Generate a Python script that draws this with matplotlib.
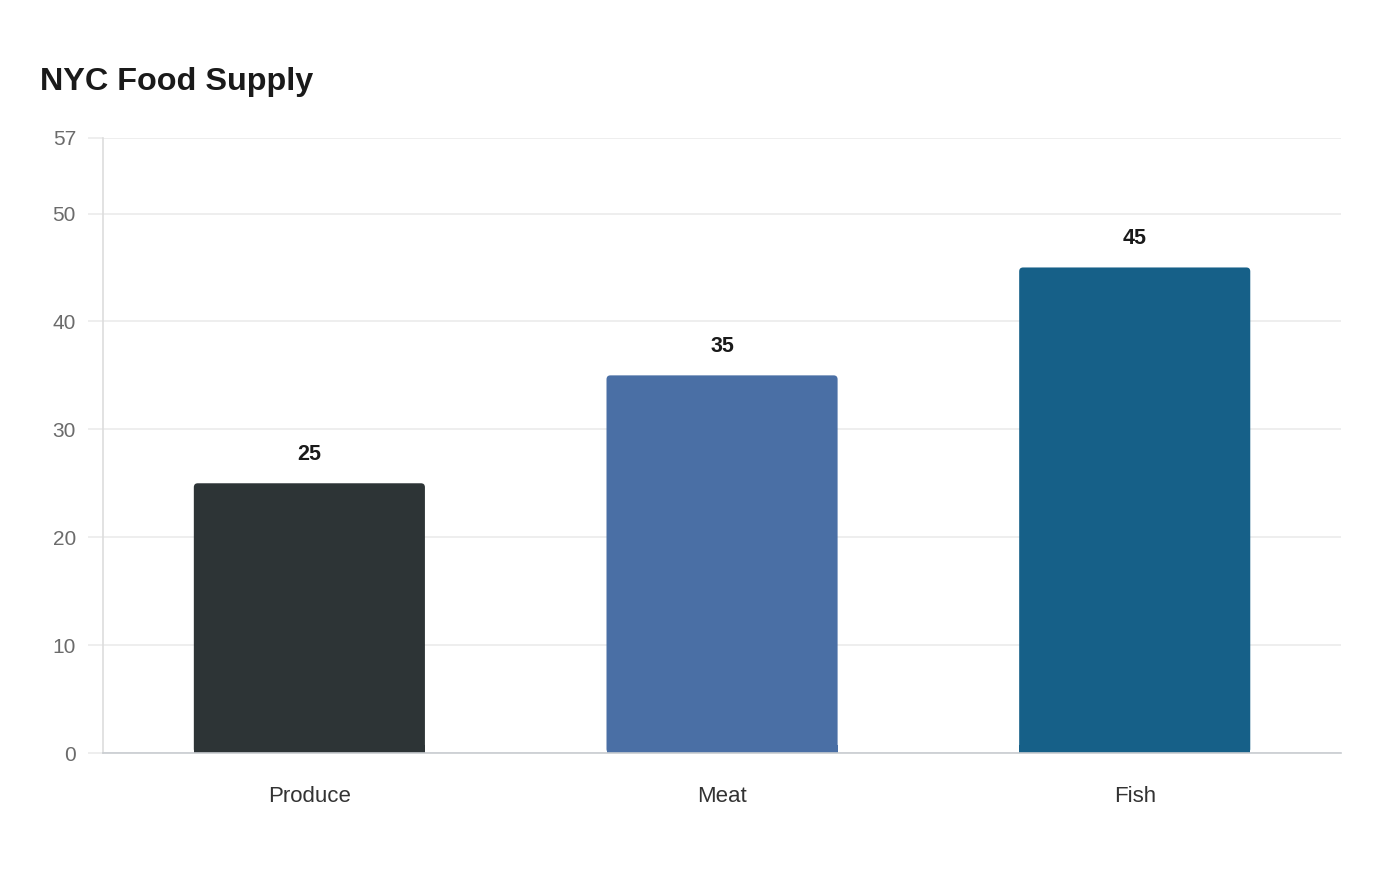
import matplotlib.pyplot as plt
from matplotlib.patches import FancyBboxPatch, Rectangle

plt.rcParams['font.family'] = ['Liberation Sans', 'DejaVu Sans']

# Data
categories = ["Produce", "Meat", "Fish"]
values = [25, 35, 45]
colors = ["#2d3436", "#4a6fa5", "#166088"]
y_ticks = [0, 10, 20, 30, 40, 50, 57]

fig = plt.figure(figsize=(14, 8.8), dpi=100)
ax = fig.add_axes([0.0736, 0.1443, 0.8843, 0.6989])

bars = ax.bar(categories, values, width=0.56, color=colors)
ax.set_xlim(-0.5, 2.5)
ax.set_ylim(0, 57)

# rounded top corners only
rx = 0.0095
ry = 0.37
for b, c in zip(bars, colors):
    x, w, h = b.get_x(), b.get_width(), b.get_height()
    b.set_visible(False)
    ax.add_patch(FancyBboxPatch((x + rx, ry), w - 2 * rx, h - 2 * ry,
                                boxstyle=f"round,pad={rx},rounding_size={rx}",
                                mutation_aspect=ry / rx, fc=c, ec="none", zorder=2))
    ax.add_patch(Rectangle((x, 0), w, 2 * ry, fc=c, ec="none", zorder=2))
    ax.text(x + w / 2, h + 2.65, str(int(h)), ha="center", va="center",
            fontsize=15.5, fontweight="bold", color="#1a1a1a")

# Format
ax.set_yticks(y_ticks)
ax.grid(axis="y", color="#ebebeb", linewidth=1.2, zorder=0)
ax.set_axisbelow(True)
for s in ["top", "right"]:
    ax.spines[s].set_visible(False)
ax.spines["left"].set_color("#dddddd")
ax.spines["bottom"].set_color("#c8ccd0")
ax.spines["left"].set_linewidth(1.2)
ax.spines["bottom"].set_linewidth(1.2)
ax.tick_params(axis="y", colors="#ebebeb", length=11, width=1.2, labelcolor="#6b6b6b",
               labelsize=15, pad=8.5)
ax.tick_params(axis="x", length=0, labelcolor="#333333", labelsize=16, pad=23.5)

fig.text(0.0285, 0.9065, "NYC Food Supply", fontsize=23.3, fontweight="bold",
         color="#1a1a1a", ha="left", va="center")

fig.savefig("out.png", dpi=100, facecolor="white")
